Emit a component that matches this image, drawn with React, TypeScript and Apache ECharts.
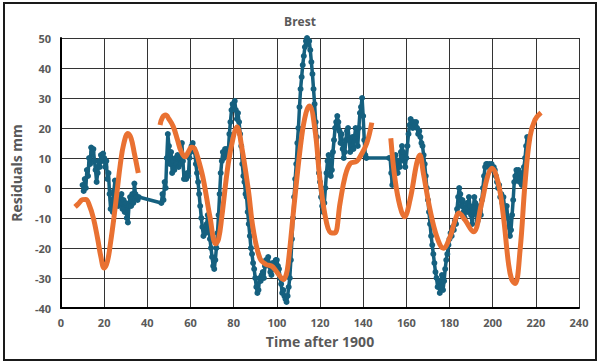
import React, { useEffect, useRef } from "react";
import * as echarts from "echarts";

// Observed residuals (blue), three runs of data joined by the line
const residualsA: [number, number][] = [
  [10, 1], [10.5, -1], [11, 3], [11.5, 0], [12, 6], [12.5, 4], [13, 10], [13.5, 8], [14, 13.5], [14.5, 12],
  [15, 13], [15.5, 9], [16, 6], [16.5, 2], [17, 5], [17.5, 9], [18, 7], [18.5, 11], [19, 9], [19.5, 11.5],
  [20, 10], [20.5, 7], [21, 9], [21.5, 3], [22, 5], [22.5, -2], [23, -7], [23.5, -4], [24, -8], [24.5, -1],
  [25, 2.5], [25.5, -2], [26, -4], [26.5, -6], [27, -3], [27.5, -5], [28, -2], [28.5, -7], [29, -4], [29.5, -8],
  [30, -5], [30.5, -10], [31, -11.5], [31.5, -6], [32, -3], [32.5, -6], [33, -2], [33.5, -5], [34, 1.5], [34.5, -2],
  [35, -3], [35.5, -4], [36, -3],
];
const residualsB: [number, number][] = [
  [46.5, -5], [47, -2], [47.5, -4], [48, 2], [48.5, 0], [49, 10], [49.5, 18], [50, 14], [50.5, 8], [51, 12],
  [51.5, 5], [52, 9], [52.5, 6], [53, 10], [53.5, 8], [54, 11], [54.5, 7], [55, 10], [55.5, 8], [56, 15],
  [56.5, 9], [57, 3], [57.5, 4], [58, 3], [58.5, 5], [59, 4], [59.5, 10], [60, 12], [60.5, 14], [61, 15],
  [61.5, 13], [62, 12], [62.5, 8], [63, 5], [63.5, 2], [64, -2], [64.5, -6], [65, -10], [65.5, -13], [66, -16],
  [66.5, -14], [67, -15], [67.5, -12], [68, -9], [68.5, -13], [69, -17], [69.5, -20], [70, -23], [70.5, -26], [71, -27],
  [71.5, -24], [72, -20], [72.5, -15], [73, -9], [73.5, -2], [74, 5], [74.5, 9], [75, 12], [75.5, 10], [76, 13],
  [76.5, 11], [77, 13], [77.5, 12], [78, 18], [78.5, 22], [79, 26], [79.5, 28], [80, 27], [80.5, 29], [81, 26],
  [81.5, 23], [82, 25], [82.5, 22], [83, 18], [83.5, 14], [84, 8], [84.5, 4], [85, 2], [85.5, -2], [86, -3],
  [86.5, -8], [87, -12], [87.5, -16], [88, -20], [88.5, -22], [89, -25], [89.5, -27], [90, -30], [90.5, -33], [91, -35],
  [91.5, -34], [92, -30], [92.5, -31], [93, -29], [93.5, -28], [94, -30], [94.5, -26], [95, -24], [95.5, -25], [96, -23],
  [96.5, -26], [97, -28], [97.5, -29], [98, -25], [98.5, -27], [99, -26], [99.5, -24], [100, -24], [100.5, -26], [101, -27],
  [101.5, -30], [102, -32], [102.5, -35], [103, -34], [103.5, -36], [104, -37], [104.5, -38], [105, -36], [105.5, -33], [106, -30],
  [106.5, -24], [107, -17], [107.5, -10], [108, -3], [108.5, 3], [109, 8], [109.5, 15], [110, 20], [110.5, 27], [111, 33],
  [111.5, 37], [112, 41], [112.5, 44], [113, 47], [113.5, 49], [114, 50], [114.5, 48], [115, 49], [115.5, 46], [116, 42],
  [116.5, 38], [117, 33], [117.5, 28], [118, 22], [118.5, 17], [119, 10], [119.5, 5], [120, 2], [120.5, -3], [121, -6],
  [121.5, -8], [122, -5], [122.5, 0], [123, 5], [123.5, 9], [124, 11], [124.5, 8], [125, 4], [125.5, 6], [126, 12],
  [126.5, 16], [127, 20], [127.5, 22], [128, 24], [128.5, 22], [129, 19], [129.5, 15], [130, 18], [130.5, 13], [131, 10],
  [131.5, 12], [132, 16], [132.5, 19], [133, 20], [133.5, 16], [134, 12], [134.5, 14], [135, 17], [135.5, 13], [136, 17],
  [136.5, 20], [137, 18], [137.5, 14], [138, 20], [138.5, 25], [139, 27], [139.5, 30], [140, 24], [140.5, 16], [141, 11],
  [141.5, 10],
];
const residualsC: [number, number][] = [
  [152, 10], [152.5, 10], [153, 5], [153.5, 1], [154, 2], [154.5, 6], [155, 11], [155.5, 8], [156, 5], [156.5, 9],
  [157, 7], [157.5, 12], [158, 14], [158.5, 12], [159, 9], [159.5, 7], [160, 10], [160.5, 14], [161, 18], [161.5, 21],
  [162, 23], [162.5, 22], [163, 20], [163.5, 22], [164, 21], [164.5, 22], [165, 20], [165.5, 18], [166, 19], [166.5, 17],
  [167, 15], [167.5, 14], [168, 11], [168.5, 8], [169, 4], [169.5, 0], [170, -4], [170.5, -8], [171, -12], [171.5, -16],
  [172, -19], [172.5, -22], [173, -25], [173.5, -28], [174, -30], [174.5, -33], [175, -31], [175.5, -35], [176, -33], [176.5, -29],
  [177, -34], [177.5, -31], [178, -27], [178.5, -24], [179, -22], [179.5, -19], [180, -17], [180.5, -15], [181, -16], [181.5, -13],
  [182, -14], [182.5, -11], [183, -12], [183.5, -7], [184, -3], [184.5, 0], [185, -2], [185.5, -6], [186, -4], [186.5, -8],
  [187, -10], [187.5, -7], [188, -5], [188.5, -8], [189, -3], [189.5, -6], [190, -9], [190.5, -12], [191, -8], [191.5, -3],
  [192, -5], [192.5, -9], [193, -11], [193.5, -8], [194, -6], [194.5, -9], [195, -4], [195.5, 0], [196, 4], [196.5, 7],
  [197, 8], [197.5, 8], [198, 7], [198.5, 8], [199, 7], [199.5, 8], [200, 6], [200.5, 7], [201, 6], [201.5, 4],
  [202, 2], [202.5, 0], [203, 1], [203.5, -3], [204, -2], [204.5, -5], [205, -3], [205.5, -7], [206, -9], [206.5, -6],
  [207, -10], [207.5, -13], [208, -16], [208.5, -14], [209, -9], [209.5, -4], [210, 2], [210.5, 4], [211, 6], [211.5, 3],
  [212, 6], [212.5, 2], [213, 5], [213.5, 1], [214, 4], [214.5, 7], [215, 10], [215.5, 14], [216, 17],
];

// Fitted curve (orange), three separate segments
const fit1: [number, number][] = [
  [6.5, -6.3], [8, -5.3], [10, -3.9], [11.5, -3.8], [13, -5.5], [15, -10], [17, -17], [18.5, -23], [20, -26.7],
  [21.5, -24.5], [23, -18], [24.5, -10], [26, -1], [27.5, 8], [29, 14.5], [31, 18.2], [32.5, 16.5], [34, 11.5], [35.8, 5],
];
const fit2: [number, number][] = [
  [45.9, 21], [47, 23.5], [48.5, 24.3], [50, 23], [52, 20.5], [54, 16], [55.5, 12.5], [57.5, 10.4], [59, 12],
  [60.5, 13.6], [62, 13], [64, 8.5], [66, 2.7], [69, -9.6], [71.7, -18.6], [73, -17], [74.5, -9.6], [77.5, 8.2],
  [80, 17.5], [81.5, 20.4], [83.7, 13.8], [86.8, -0.7], [89.1, -14], [92.2, -23.5], [95, -25.5], [97.5, -26],
  [99.5, -27.5], [101.5, -29.5], [103, -30.5], [104.3, -29], [105.3, -25], [108.4, -2.9], [111.5, 17.1], [113.5, 25],
  [115.1, 27.3], [117.7, 19.3], [120, 2.7], [123.1, -11.8], [125.5, -15], [126.9, -15], [129.3, -5], [131.6, 3.8],
  [134, 8.2], [137, 8.9], [139, 11], [141.7, 15], [144, 21.8],
];
const fit3: [number, number][] = [
  [152.8, 16.6], [154.8, 2.7], [157.1, -6.2], [159.1, -9.6], [161.7, -4], [164.8, 8.2], [166.2, 11], [167.9, 4.9],
  [171, -7.3], [174.1, -16.2], [177.2, -20.1], [180.3, -16.2], [182.5, -11], [184.3, -8.3], [187.2, -10.7], [191, -14.6],
  [194.9, -5], [197.5, 3.5], [199.6, 6.6], [202.6, 1.6], [205, -9.6], [207.3, -25], [208.8, -30.5], [210.4, -31.8],
  [212.7, -20.7], [215, 1.6], [217.3, 17.1], [219.6, 22.7], [222.4, 25.1],
];

const xTicks = [0, 240, 20];
const yTicks = [-40, 50, 10];

const BLUE = "#15607f";
const ORANGE = "#E97132";
const LABEL = "#595959";
const FONT = "'Open Sans', 'DejaVu Sans', sans-serif";

export default function App() {
  const ref = useRef<HTMLDivElement>(null);
  useEffect(() => {
    if (!ref.current) return;
    const chart = echarts.init(ref.current, undefined, { renderer: "svg" });
    const orangeSeries = (data: [number, number][]) => ({
      type: "line",
      data,
      smooth: 0.4,
      lineStyle: { color: ORANGE, width: 5 },
      itemStyle: { color: ORANGE },
      showSymbol: false,
      z: 3,
    });
    chart.setOption({
      animation: false,
      backgroundColor: "#ffffff",
      textStyle: { fontFamily: FONT },
      title: {
        text: "Brest",
        left: "center",
        top: 10,
        textStyle: { fontSize: 12, fontWeight: "bold", color: LABEL, fontFamily: FONT },
      },
      graphic: [
        {
          type: "rect",
          shape: { x: 4, y: 3, width: 592, height: 357 },
          style: { fill: "none", stroke: "#1a1a1a", lineWidth: 2 },
          silent: true,
        },
      ],
      grid: { left: 61, right: 21, top: 38, bottom: 56 },
      xAxis: {
        type: "value",
        min: xTicks[0],
        max: xTicks[1],
        interval: xTicks[2],
        name: "Time after 1900",
        nameLocation: "middle",
        nameGap: 26,
        nameTextStyle: { fontSize: 14, fontWeight: "bold", color: LABEL, fontFamily: FONT },
        axisLine: { show: true, onZero: false, lineStyle: { color: "#000", width: 2 } },
        axisTick: { show: false },
        axisLabel: { fontSize: 11, fontWeight: "bold", color: LABEL, margin: 9, fontFamily: FONT },
        splitLine: { show: true, lineStyle: { color: "#333", width: 1 } },
      },
      yAxis: {
        type: "value",
        min: yTicks[0],
        max: yTicks[1],
        interval: yTicks[2],
        name: "Residuals mm",
        nameLocation: "middle",
        nameGap: 29,
        nameTextStyle: { fontSize: 14, fontWeight: "bold", color: LABEL, fontFamily: FONT },
        axisLine: { show: true, onZero: false, lineStyle: { color: "#000", width: 2 } },
        axisTick: { show: false },
        axisLabel: { fontSize: 11, fontWeight: "bold", color: LABEL, margin: 10, fontFamily: FONT },
        splitLine: { show: true, lineStyle: { color: "#333", width: 1 } },
      },
      series: [
        {
          type: "line",
          data: [...residualsA, ...residualsB, ...residualsC],
          lineStyle: { color: BLUE, width: 3.5 },
          itemStyle: { color: BLUE },
          symbol: "circle",
          symbolSize: 6,
          showSymbol: true,
          z: 2,
        },
        orangeSeries(fit1),
        orangeSeries(fit2),
        orangeSeries(fit3),
      ],
    });
    return () => chart.dispose();
  }, []);
  return (
    <div
      ref={ref}
      style={{ position: "absolute", left: 0, top: 0, width: 600, height: 364 }}
    />
  );
}
